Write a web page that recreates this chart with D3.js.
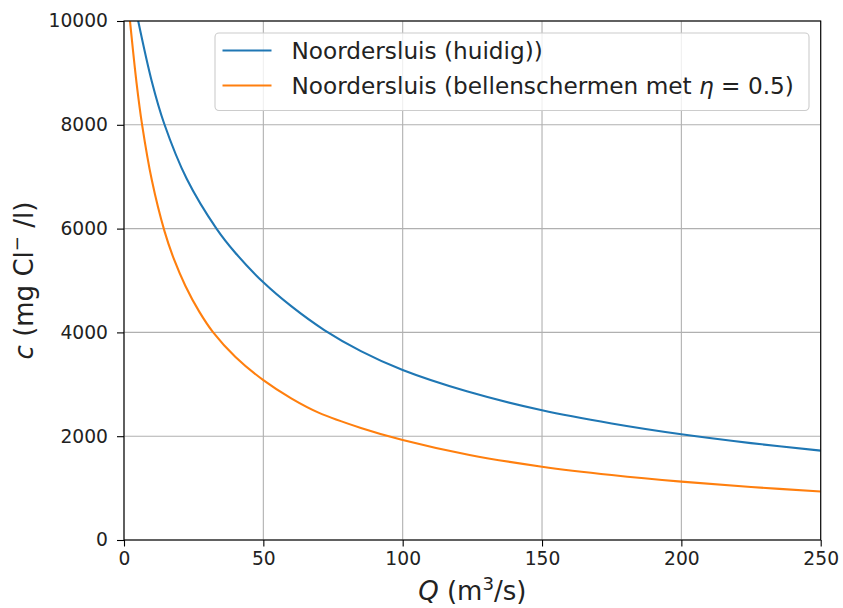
<!DOCTYPE html>
<html>
<head>
<meta charset="utf-8">
<script src="https://cdn.jsdelivr.net/npm/d3@7"></script>
<style>
  html, body { margin: 0; padding: 0; background: #fff; }
  svg { display: block; font-family: "DejaVu Sans", sans-serif; }
</style>
</head>
<body>
<svg id="chart" width="843" height="608"></svg>
<script>
// Chloride concentration c versus discharge Q at the Noordersluis
const huidigQ = [5.1, 10, 14.4, 22.5, 33.3, 40, 50, 60, 72, 85, 100, 123, 150, 175, 200, 225, 250];
const huidigC = [10000, 8830, 8025, 6960, 5990, 5530, 4965, 4505, 4040, 3640, 3275, 2865, 2500, 2245, 2037, 1867, 1722];

const bellenQ = [2.15, 4.5, 6.5, 10, 14.5, 18, 22, 27, 32, 40, 50, 60, 70, 85, 100, 124, 150, 175, 200, 225, 250];
const bellenC = [10000, 8810, 8000, 6930, 5956, 5400, 4900, 4400, 4000, 3526, 3080, 2730, 2450, 2160, 1927, 1638, 1413, 1252, 1124, 1021, 935];

const seriesNames = ["Noordersluis (huidig))", "Noordersluis (bellenschermen met η = 0.5)"];
const seriesColors = ["#1f77b4", "#ff7f0e"];

const xTicks = [0, 50, 100, 150, 200, 250];
const yTicks = [0, 2000, 4000, 6000, 8000, 10000];

const svg = d3.select("#chart");
const tickFont = 18.7, legendFont = 23.2, labelFont = 26;
const plotL = 124, plotR = 820.7, plotT = 21, plotB = 540;

const x = d3.scaleLinear().domain([0, 250]).range([plotL, plotR]);
const y = d3.scaleLinear().domain([0, 10000]).range([plotB, plotT]);

// grid
const grid = svg.append("g");
grid.selectAll("line.gx").data(xTicks).enter().append("line")
  .attr("x1", d => x(d)).attr("x2", d => x(d))
  .attr("y1", plotT).attr("y2", plotB)
  .attr("stroke", "#b0b0b0").attr("stroke-width", 1.1);
grid.selectAll("line.gy").data(yTicks).enter().append("line")
  .attr("x1", plotL).attr("x2", plotR)
  .attr("y1", d => y(d)).attr("y2", d => y(d))
  .attr("stroke", "#b0b0b0").attr("stroke-width", 1.1);

// clip for curves
svg.append("defs").append("clipPath").attr("id", "plotclip")
  .append("rect").attr("x", plotL).attr("y", plotT)
  .attr("width", plotR - plotL).attr("height", plotB - plotT);

const line = d3.line()
  .x(d => x(d[0])).y(d => y(d[1]))
  .curve(d3.curveCatmullRom.alpha(0.5));

const series = [
  d3.zip(huidigQ, huidigC),
  d3.zip(bellenQ, bellenC)
];

svg.append("g").attr("clip-path", "url(#plotclip)")
  .selectAll("path").data(series).enter().append("path")
  .attr("d", line)
  .attr("fill", "none")
  .attr("stroke", (d, i) => seriesColors[i])
  .attr("stroke-width", 2.1)
  .attr("stroke-linejoin", "round")
  .attr("stroke-linecap", "square");

// axes
const xAxis = d3.axisBottom(x).tickValues(xTicks).tickFormat(d3.format("d"))
  .tickSize(6.5).tickPadding(5);
const yAxis = d3.axisLeft(y).tickValues(yTicks).tickFormat(d3.format("d"))
  .tickSize(7).tickPadding(9);

const gx = svg.append("g").attr("transform", `translate(0,${plotB})`).call(xAxis);
const gy = svg.append("g").attr("transform", `translate(${plotL},0)`).call(yAxis);
[gx, gy].forEach(g => {
  g.select(".domain").remove();
  g.selectAll(".tick line").attr("stroke", "#000").attr("stroke-width", 1.1);
  g.selectAll(".tick text").attr("fill", "#222").style("font-size", tickFont + "px")
    .style("font-family", "DejaVu Sans");
});

// frame
svg.append("rect").attr("x", plotL).attr("y", plotT)
  .attr("width", plotR - plotL).attr("height", plotB - plotT)
  .attr("fill", "none").attr("stroke", "#000").attr("stroke-width", 1.1);

// axis labels
const xl = svg.append("text")
  .attr("x", (plotL + plotR) / 2).attr("y", 600)
  .attr("text-anchor", "middle").attr("fill", "#222")
  .style("font-size", labelFont + "px");
xl.append("tspan").attr("font-style", "italic").text("Q");
xl.append("tspan").text(" (m");
xl.append("tspan").attr("dy", -10).style("font-size", (labelFont * 0.7) + "px").text("3");
xl.append("tspan").attr("dy", 10).text("/s)");

const yl = svg.append("text")
  .attr("transform", `translate(33,${(plotT + plotB) / 2}) rotate(-90)`)
  .attr("text-anchor", "middle").attr("fill", "#222")
  .style("font-size", labelFont + "px");
yl.append("tspan").attr("font-style", "italic").text("c");
yl.append("tspan").text(" (mg Cl");
yl.append("tspan").attr("dy", -10).style("font-size", (labelFont * 0.7) + "px").text("\u2212");
yl.append("tspan").attr("dy", 10).text(" /l)");

// legend
const lg = svg.append("g");
lg.append("rect").attr("x", 215).attr("y", 33).attr("width", 594).attr("height", 77.5)
  .attr("rx", 4).attr("fill", "#fff").attr("fill-opacity", 0.8)
  .attr("stroke", "#cccccc").attr("stroke-width", 1.1);
seriesNames.forEach((name, i) => {
  const yy = 50.5 + i * 35;
  lg.append("line").attr("x1", 222.5).attr("x2", 271.5).attr("y1", yy).attr("y2", yy)
    .attr("stroke", seriesColors[i]).attr("stroke-width", 2.1);
  const t = lg.append("text").attr("x", 291.5).attr("y", yy + 8.2)
    .attr("fill", "#222").style("font-size", legendFont + "px");
  if (name.includes("η")) {
    const parts = name.split("η");
    t.append("tspan").text(parts[0]);
    t.append("tspan").attr("font-style", "italic").text("η");
    t.append("tspan").text(parts[1]);
  } else {
    t.text(name);
  }
});
</script>
</body>
</html>
